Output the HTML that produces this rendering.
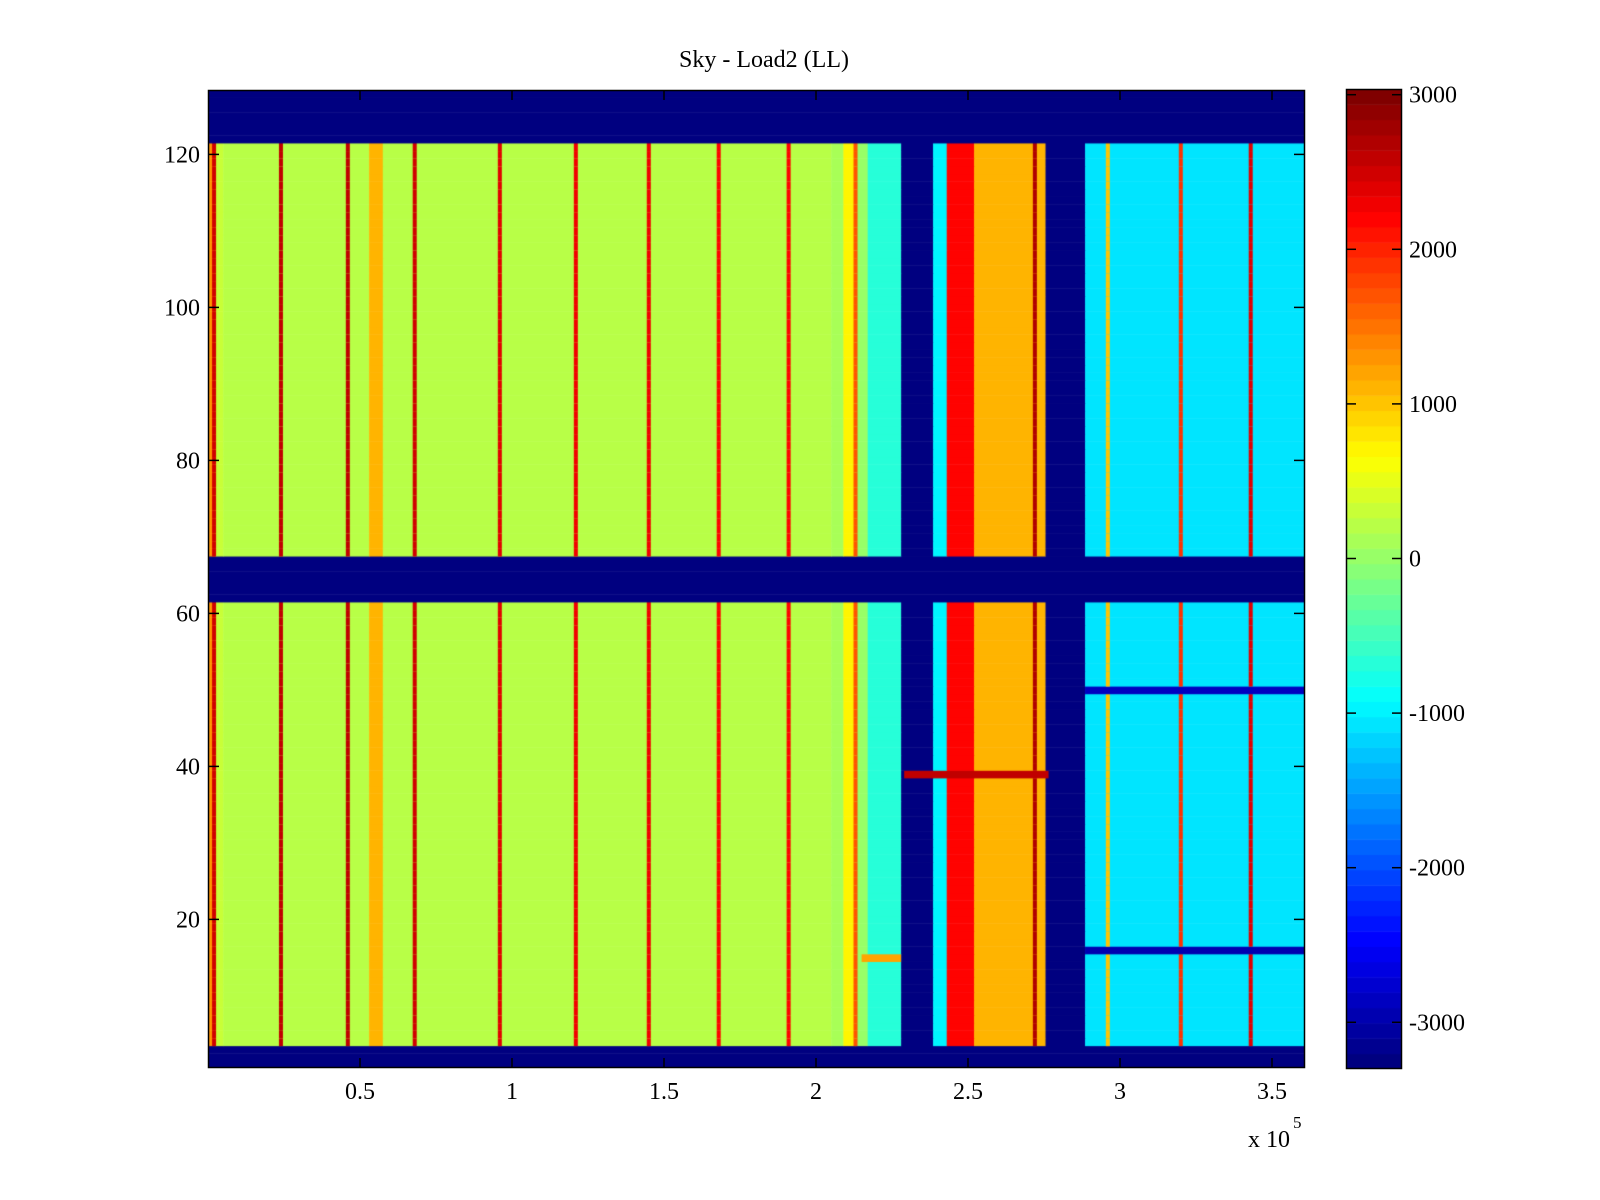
<!DOCTYPE html>
<html><head><meta charset="utf-8"><style>
html,body{margin:0;padding:0;background:#fff;}
#root{position:relative;width:1600px;height:1200px;background:#fff;overflow:hidden;font-family:"Liberation Serif",serif;}
canvas{position:absolute;}
svg{position:absolute;left:0;top:0;}
</style></head><body>
<div id="root">
<canvas id="heat" width="1097" height="978" style="left:208px;top:90px;"></canvas>
<canvas id="cbar" width="56" height="980" style="left:1346px;top:89px;"></canvas>
<svg id="ov" width="1600" height="1200"></svg>
</div>
<script>
// ---- data ----
const clim = [-3302, 3037];
const xTicks = [0.5, 1, 1.5, 2, 2.5, 3, 3.5];
const xTickLabels = ["0.5","1","1.5","2","2.5","3","3.5"];
const yTicks = [20, 40, 60, 80, 100, 120];
const cbTicks = [3000, 2000, 1000, 0, -1000, -2000, -3000];
// column bands (start in 1e5 units) and base values
const bandStart = [0, 0.025, 0.05, 0.53, 0.575, 2.05, 2.09, 2.13, 2.17, 2.28, 2.385, 2.43, 2.52, 2.755, 2.885];
const bandVal   = [1300, 350, 250, 1100, 250, 150, 700, 50, -700, -3302, -1000, 2200, 1100, -3302, -1100];
// narrow red stripes
const linePos = [0.02, 0.24, 0.46, 0.68, 0.96, 1.21, 1.45, 1.68, 1.91, 2.13, 2.72, 2.96, 3.2, 3.43];
const lineVal = [2500, 2600, 2600, 2500, 2400, 2300, 2300, 2200, 2200, 1700, 2700, 1000, 1900, 2400];
// rows fully at minimum
const minRowStart = [1, 62, 122];
const minRowEnd = [3, 67, 128];
// row-specific overrides
const ovRow = [16, 50, 39, 15];
const ovX0 = [2.885, 2.885, 2.29, 2.15];
const ovX1 = [3.61, 3.61, 2.765, 2.28];
const ovVal = [-3000, -2900, 2600, 1200];

const X0 = 208, XS = 304, Y0 = 1072.4, YS = 7.65;
const xpx = v => X0 + v * XS;
const ypx = v => Y0 - v * YS;
function jet(v){
  let t = (v - clim[0]) / (clim[1] - clim[0]);
  t = Math.max(0, Math.min(1, t));
  t = Math.min(63, Math.floor(t * 64)) / 63;
  const c = x => Math.round(255 * Math.max(0, Math.min(1, x)));
  return `rgb(${c(1.5 - Math.abs(4*t - 3))},${c(1.5 - Math.abs(4*t - 2))},${c(1.5 - Math.abs(4*t - 1))})`;
}
// ---- heatmap ----
const hc = document.getElementById('heat').getContext('2d');
const XMAX = 3.61;
for (let r = 1; r <= 128; r++) {
  const top = ypx(r + 0.5) - 90, h = YS;
  let isMin = false;
  for (let i = 0; i < minRowStart.length; i++) if (r >= minRowStart[i] && r <= minRowEnd[i]) isMin = true;
  if (isMin) { hc.fillStyle = jet(clim[0]); hc.fillRect(0, top, 1097, h + 0.5); continue; }
  for (let i = 0; i < bandStart.length; i++) {
    const a = bandStart[i], b = i + 1 < bandStart.length ? bandStart[i+1] : XMAX;
    hc.fillStyle = jet(bandVal[i]);
    hc.fillRect(xpx(a) - X0, top, (b - a) * XS + 0.5, h + 0.5);
  }
  for (let i = 0; i < linePos.length; i++) {
    hc.fillStyle = jet(lineVal[i]);
    hc.fillRect(xpx(linePos[i]) - X0 - 2, top, 4, h + 0.5);
  }
  for (let i = 0; i < ovRow.length; i++) if (ovRow[i] === r) {
    hc.fillStyle = jet(ovVal[i]);
    hc.fillRect(xpx(ovX0[i]) - X0, top, (ovX1[i] - ovX0[i]) * XS, h + 0.5);
  }
}
// ---- colorbar ----
const cc = document.getElementById('cbar').getContext('2d');
for (let k = 0; k < 64; k++) {
  const v0 = clim[0] + (clim[1] - clim[0]) * k / 64;
  const hh = 980 / 64;
  cc.fillStyle = jet(v0 + 1);
  cc.fillRect(0, 980 - (k + 1) * hh, 56, hh + 0.5);
}
// ---- overlay svg ----
const NS = 'http://www.w3.org/2000/svg';
const svg = document.getElementById('ov');
function mk(tag, attrs, text){
  const e = document.createElementNS(NS, tag);
  for (const k in attrs) e.setAttribute(k, attrs[k]);
  if (text !== undefined) e.textContent = text;
  svg.appendChild(e); return e;
}
let e;
e = mk('rect', {x:208.5, y:90.5, width:1096, height:977, fill:'none', stroke:'#000', 'stroke-width':1.5});


xTicks.forEach((t, i) => {
  const x = xpx(t);
  e = mk('line', {x1:x, x2:x, y1:1068, y2:1058, stroke:'#000', 'stroke-width':1.5});
  
  
  e = mk('line', {x1:x, x2:x, y1:90, y2:100, stroke:'#000', 'stroke-width':1.5});
  
  
  e = mk('text', {x:x, y:1099, 'font-size':24, 'text-anchor':'middle', 'font-family':'Liberation Serif, serif'}, xTickLabels[i]);
  
  
});
yTicks.forEach(t => {
  const y = ypx(t);
  e = mk('line', {x1:208, x2:219, y1:y, y2:y, stroke:'#000', 'stroke-width':1.5});
  
  
  e = mk('line', {x1:1305, x2:1294, y1:y, y2:y, stroke:'#000', 'stroke-width':1.5});
  
  
  e = mk('text', {x:200, y:y + 8, 'font-size':24, 'text-anchor':'end', 'font-family':'Liberation Serif, serif'}, String(t));
  
  
});
e = mk('rect', {x:1346.5, y:89.5, width:55, height:979, fill:'none', stroke:'#000', 'stroke-width':1.5});


cbTicks.forEach(t => {
  const y = 94.7 + (3000 - t) * 0.1546;
  e = mk('line', {x1:1346, x2:1356, y1:y, y2:y, stroke:'#000', 'stroke-width':1.5});
  
  
  e = mk('line', {x1:1402, x2:1392, y1:y, y2:y, stroke:'#000', 'stroke-width':1.5});
  
  
  e = mk('text', {x:1409, y:y + 8, 'font-size':24, 'font-family':'Liberation Serif, serif'}, String(t));
  
  
});
e = mk('text', {x:764, y:67, 'font-size':24, 'text-anchor':'middle', 'font-family':'Liberation Serif, serif'}, 'Sky - Load2 (LL)');


e = mk('text', {x:1248, y:1147, 'font-size':24, 'font-family':'Liberation Serif, serif'}, 'x 10');


e = mk('text', {x:1293, y:1128, 'font-size':17, 'font-family':'Liberation Serif, serif'}, '5');


</script>
</body></html>
